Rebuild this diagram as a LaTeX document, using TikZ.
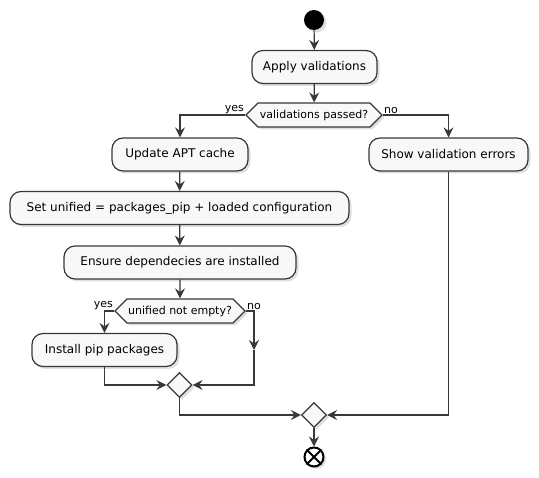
\documentclass[tikz,border=0pt]{standalone}
\usepackage{fontspec}
\setmainfont{DejaVu Sans}
\usetikzlibrary{shapes.geometric, shapes.symbols, arrows.meta, shadows}
\definecolor{umlline}{HTML}{383838}
\definecolor{umlfill}{HTML}{F8F8F8}
\tikzstyle{arrow} = [-{Stealth[length=10pt,width=10pt,inset=3.5pt]},line width=1.2pt,umlline]
\tikzstyle{shade} = [drop shadow={shadow xshift=2.5pt,shadow yshift=-2.5pt,opacity=.25}]
\tikzstyle{act} = [shade,draw=umlline,line width=1.2pt,fill=umlfill,rounded corners=11pt,minimum height=33pt,inner xsep=0pt,font=\fontsize{12}{14}\selectfont]
\tikzstyle{cond} = [shade,draw=umlline,line width=1.2pt,fill=umlfill,signal,signal to=west and east,signal pointer angle=90,minimum height=24pt,inner xsep=0pt,font=\fontsize{11}{13}\selectfont]
\tikzstyle{merge} = [shade,draw=umlline,line width=1.2pt,fill=umlfill,diamond,aspect=1,minimum size=25pt,inner sep=0pt]
\tikzstyle{lbl} = [inner sep=1pt,font=\fontsize{11}{13}\selectfont]

\begin{document}
\begin{tikzpicture}[x=1pt,y=-1pt]
      \useasboundingbox(0,0)rectangle(539,478);
      \node[shade,circle,fill=black,minimum size=20pt,inner sep=0pt](start)at(314,20){};
      \node[act,minimum width=125pt](apply)at(314.5,67){Apply validations};
      \node[cond,minimum width=136pt](passed)at(314,115){validations passed?};
      \node[lbl,anchor=south east](yes1)at(passed.west){yes};
      \node[lbl,anchor=south west](no1)at(passed.east){no};
      \node[act,minimum width=136pt](apt)at(180,154.5){Update APT cache};
      \node[act,minimum width=159pt](errors)at(448.5,154.5){Show validation errors};
      \node[act,minimum width=339pt](unified)at(179.5,208){Set unified = packages\_pip + loaded configuration};
      \node[act,minimum width=232pt](deps)at(180,262.5){Ensure dependecies are installed};
      \node[cond,minimum width=130pt](notempty)at(180,311){unified not empty?};
      \node[lbl,anchor=south east](yes2)at(notempty.west){yes};
      \node[lbl,anchor=south west](no2)at(notempty.east){no};
      \node[act,minimum width=145pt](pip)at(104.5,350){Install pip packages};
      \node[merge](join1)at(179.5,385){};
      \node[merge](join2)at(314,415){};
      \node[shade,circle,draw=black,line width=2pt,fill=white,minimum size=19pt,inner sep=0pt](stop)at(314,457){};
      \draw[line width=2pt](stop.north west)--(stop.south east)(stop.north east)--(stop.south west);
      \coordinate(skip)at(254,350);
      \draw[arrow](start)--(apply);
      \draw[arrow](apply)--(passed);
      \draw[arrow](passed.west)-|(apt.north);
      \draw[arrow](passed.east)-|(errors.north);
      \draw[arrow](apt)--(unified);
      \draw[arrow](unified)--(deps);
      \draw[arrow](deps)--(notempty);
      \draw[arrow](notempty.west)-|(pip.north);
      \draw[arrow](notempty.east)-|(skip);
      \draw[arrow](skip)|-(join1.east);
      \draw[arrow](pip.south)|-(join1.west);
      \draw[arrow](join1.south)|-(join2.west);
      \draw[arrow](errors.south)|-(join2.east);
      \draw[arrow](join2)--(stop);
    \end{tikzpicture}
\end{document}
